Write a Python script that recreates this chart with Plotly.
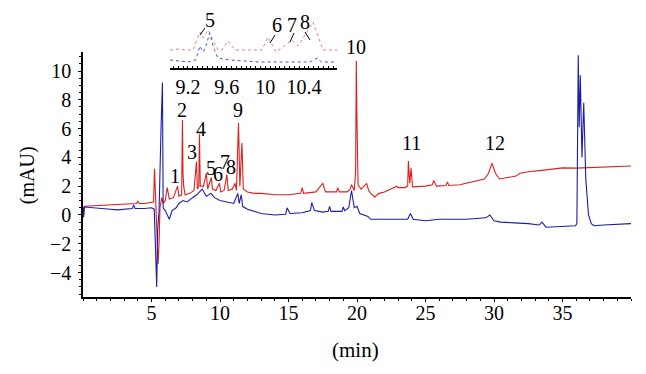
import plotly.graph_objects as go

# ---- main chromatogram (time in min, absorbance in mAU) ----
red_t = [0.0, 0.04, 0.1, 1.0, 2.0, 3.0, 3.9, 4.0, 4.1, 4.5, 5.0, 5.15, 5.22, 5.3, 5.4, 5.48, 5.55,
         5.62, 5.75, 5.85, 6.0, 6.15, 6.3, 6.6, 6.9, 7.0, 7.2, 7.26, 7.3, 7.35, 7.45, 7.8, 8.1,
         8.28, 8.35, 8.45, 8.5, 8.56, 8.8, 9.0, 9.1, 9.37, 9.45, 9.7, 9.96, 10.05, 10.3, 10.5,
         10.6, 10.9, 11.1, 11.2, 11.35, 11.45, 11.6, 11.7, 12.0, 12.5, 13.0, 14.0, 15.0, 15.9,
         16.0, 16.1, 17.0, 17.5, 17.7, 18.5, 18.6, 18.7, 19.3, 19.5, 19.6, 19.8, 19.9, 19.95,
         20.0, 20.02, 20.08, 20.3, 20.7, 20.85, 21.0, 21.3, 21.6, 22.0, 22.5, 22.9, 23.0, 23.5,
         23.7, 23.75, 23.85, 23.95, 24.05, 24.3, 25.0, 25.5, 25.6, 25.8, 26.5, 26.6, 26.7, 27.5,
         28.5, 29.3, 29.6, 29.85, 30.1, 30.4, 31.0, 31.6, 31.9, 32.5, 33.5, 35.0, 36.0, 37.0,
         38.0, 39.0, 40.0]
red_mAU = [0.3, -0.2, 0.6, 0.65, 0.7, 0.75, 0.8, 0.95, 0.8, 0.8, 0.85, 0.9, 3.2, 1.0, -1.0, -3.4, -2.0,
           0.5, 1.2, 0.8, 1.0, 1.9, 1.1, 1.2, 2.0, 1.3, 1.4, 6.6, 2.9, 2.0, 1.4, 1.5, 1.7,
           3.7, 1.8, 2.0, 5.6, 2.0, 2.0, 2.9, 1.8, 2.6, 1.8, 1.7, 2.2, 1.6, 1.7, 2.8,
           1.7, 1.8, 2.2, 1.7, 6.4, 2.0, 5.0, 1.8, 1.6, 1.5, 1.5, 1.4, 1.4, 1.5,
           1.9, 1.5, 1.6, 2.2, 1.6, 1.6, 1.9, 1.6, 1.6, 1.8, 2.1, 1.7, 3.0, 10.7,
           6.4, 4.0, 2.1, 1.8, 2.2, 1.7, 1.5, 1.25, 1.5, 1.6, 1.8, 2.0, 1.9, 1.9,
           2.0, 3.75, 2.2, 3.25, 1.95, 1.95, 2.0, 2.1, 2.4, 2.0, 2.05, 2.3, 2.05, 2.1,
           2.3, 2.5, 2.9, 3.6, 2.9, 2.5, 2.6, 2.7, 2.9, 3.0, 3.1, 3.27, 3.25, 3.3,
           3.35, 3.4, 3.4]

blue_t = [0.0, 0.04, 0.1, 1.0, 2.0, 2.5, 3.0, 3.6, 3.7, 3.8, 4.5, 5.0, 5.2, 5.3, 5.38, 5.45, 5.55,
          5.7, 5.8, 5.85, 6.0, 6.3, 6.5, 6.8, 7.0, 7.3, 7.6, 8.0, 8.3, 8.7, 9.0, 9.35, 9.6,
          10.0, 10.5, 11.0, 11.3, 11.4, 11.55, 11.65, 12.0, 13.0, 14.0, 14.8, 14.9, 15.1, 16.0,
          16.6, 16.7, 16.9, 17.5, 17.9, 18.0, 18.1, 18.9, 19.0, 19.1, 19.4, 19.6, 19.8, 20.0,
          20.2, 20.8, 21.0, 22.0, 23.0, 23.7, 23.9, 24.1, 25.0, 26.0, 27.0, 28.0, 29.4, 29.7,
          30.0, 30.5, 31.5, 32.5, 33.3, 33.5, 33.8, 35.0, 35.95, 36.05, 36.15, 36.22, 36.3,
          36.42, 36.55, 36.7, 36.9, 37.1, 37.3, 38.0, 39.0, 40.0]
blue_mAU = [0.55, -0.1, 0.55, 0.5, 0.4, 0.35, 0.4, 0.45, 0.7, 0.45, 0.45, 0.5, 0.4, -2.0, -5.0, -1.0, 0.2,
            6.2, 9.2, 0.5, 0.3, -0.3, 0.3, 0.5, 0.8, 1.0, 0.9, 1.2, 1.4, 1.8, 1.3, 1.5, 1.2,
            1.0, 0.9, 0.8, 1.5, 0.8, 1.4, 0.6, 0.4, 0.1, 0.0, 0.05, 0.5, 0.1, 0.15,
            0.3, 0.85, 0.3, 0.2, 0.25, 0.6, 0.25, 0.25, 0.55, 0.3, 0.5, 1.7, 0.5, 0.6,
            0.1, -0.1, -0.3, -0.3, -0.3, -0.3, 0.1, -0.3, -0.4, -0.3, -0.3, -0.3, -0.2, 0.0,
            -0.4, -0.5, -0.55, -0.6, -0.7, -0.5, -0.85, -0.8, -0.75, -0.6, 11.1, 6.1, 9.7,
            4.0, 7.8, 2.5, 0.0, -0.6, -0.75, -0.7, -0.65, -0.6]

# ---- inset (9.0 - 10.75 min, relative signal) ----
inset_red_t = [9.014, 9.10, 9.169, 9.252, 9.324, 9.355, 9.407, 9.51, 9.55, 9.614, 9.686, 9.80,
               9.965, 10.027, 10.11, 10.275, 10.338, 10.493, 10.596, 10.741]
inset_red = [18, 19, 18, 18, 36, 30, 38, 18, 18, 27, 18, 18,
             18, 31, 16, 28, 22, 46, 18, 18]
inset_blue_t = [9.014, 9.10, 9.20, 9.28, 9.324, 9.355, 9.38, 9.424, 9.465, 9.51, 9.63, 9.94,
                10.25, 10.46, 10.54, 10.58, 10.741]
inset_blue = [8, 7, 6, 8, 22, 16, 20, 35, 20, 10, 8, 6,
              6, 6, 10, 6, 6]

# ---- ticks and labels ----
x_ticks = [5, 10, 15, 20, 25, 30, 35]
y_ticks = [-4, -2, 0, 2, 4, 6, 8, 10]
inset_ticks = [9.2, 9.6, 10, 10.4]
peak_names = ["1", "2", "3", "4", "5", "6", "7", "8", "9", "10", "11", "12"]
peak_label_t = [6.68, 7.19, 7.99, 8.64, 9.37, 9.88, 10.39, 10.83, 11.34, 19.94, 23.95, 30.07]
peak_label_y = [2.7, 7.3, 4.4, 6.0, 3.26, 2.85, 3.7, 3.33, 7.3, 11.1, 5.0, 5.0]
inset_names = ["5", "6", "7", "8"]
inset_label_t = [9.43, 10.12, 10.28, 10.41]
inset_label_y = [48, 43, 43, 46]

RED = "rgb(222,30,30)"
BLUE = "rgb(28,28,170)"
FONT = "Liberation Serif"

fig = go.Figure()
fig.add_trace(go.Scatter(x=red_t, y=red_mAU, mode="lines", line=dict(color=RED, width=1.1),
                         xaxis="x", yaxis="y", showlegend=False, hoverinfo="skip"))
fig.add_trace(go.Scatter(x=blue_t, y=blue_mAU, mode="lines", line=dict(color=BLUE, width=1.1),
                         xaxis="x", yaxis="y", showlegend=False, hoverinfo="skip"))
fig.add_trace(go.Scatter(x=inset_red_t, y=inset_red, mode="lines",
                         line=dict(color="rgba(225,80,80,0.75)", width=1, dash="dot"),
                         xaxis="x2", yaxis="y2", showlegend=False, hoverinfo="skip"))
fig.add_trace(go.Scatter(x=inset_blue_t, y=inset_blue, mode="lines",
                         line=dict(color="rgba(40,40,180,0.8)", width=1, dash="dot"),
                         xaxis="x2", yaxis="y2", showlegend=False, hoverinfo="skip"))

annotations = []
for name, t, v in zip(peak_names, peak_label_t, peak_label_y):
    annotations.append(dict(x=t, y=v, xref="x", yref="y", text=name, showarrow=False,
                            xanchor="center", yanchor="middle",
                            yshift=8 if name == "10" else 0,
                            font=dict(family=FONT, size=20, color="black")))
for name, t, v in zip(inset_names, inset_label_t, inset_label_y):
    annotations.append(dict(x=t, y=v, xref="x2", yref="y2", text=name, showarrow=False,
                            xanchor="center", yanchor="middle",
                            font=dict(family=FONT, size=20, color="black")))
annotations.append(dict(x=0.498, y=-0.183, xref="paper", yref="paper", text="(min)",
                        xanchor="center", yanchor="middle",
                        showarrow=False, font=dict(family=FONT, size=21, color="black")))
annotations.append(dict(x=-0.102, y=0.422, xref="paper", yref="paper", text="(mAU)",
                        xanchor="center", yanchor="middle",
                        textangle=-90, showarrow=False,
                        font=dict(family=FONT, size=20, color="black")))

leaders = [(9.324, 33, 9.376, 40), (10.048, 25, 10.10, 33), (10.255, 26, 10.296, 35),
           (10.41, 36, 10.462, 28)]
shapes = [dict(type="line", xref="x2", yref="y2", x0=a, y0=b, x1=c, y1=d,
               line=dict(color="black", width=1)) for a, b, c, d in leaders]

axis_common = dict(showgrid=False, zeroline=False, showline=True, linecolor="black",
                   linewidth=1.5, tickfont=dict(family=FONT, size=20, color="black"))

# the page body adds an 8px offset, so margins are compensated here
fig.update_layout(
    width=646, height=374,
    margin=dict(l=75, r=23, t=0, b=85),
    font=dict(family=FONT, size=20, color="black"),
    paper_bgcolor="white", plot_bgcolor="white",
    annotations=annotations, shapes=shapes,
    xaxis=dict(domain=[0, 1], range=[0, 40], anchor="y", tickvals=x_ticks,
               ticks="outside", ticklen=3, tickcolor="black", tickwidth=1.2,
               ticklabelstandoff=-6,
               minor=dict(dtick=1, ticks="outside", ticklen=2.5, tickcolor="black"),
               **axis_common),
    yaxis=dict(domain=[0, 245 / 289], range=[-5.7, 11.32], anchor="x", tickvals=y_ticks,
               ticks="outside", ticklen=3, tickcolor="black", tickwidth=1.2,
               ticklabelstandoff=3,
               minor=dict(dtick=0.5, ticks="outside", ticklen=2.5, tickcolor="black"),
               **axis_common),
    xaxis2=dict(domain=[87 / 548, 254 / 548], range=[9.014, 10.741], anchor="y2",
                tickvals=inset_ticks, ticktext=["9.2", "9.6", "10", "10.4"],
                ticks="inside", ticklen=2.5, tickcolor="black",
                minor=dict(dtick=0.05, ticks="inside", ticklen=2, tickcolor="black"),
                **axis_common),
    yaxis2=dict(domain=[229 / 289, 1], range=[0, 60], anchor="x2", visible=False),
)

fig.write_html("out.html")
